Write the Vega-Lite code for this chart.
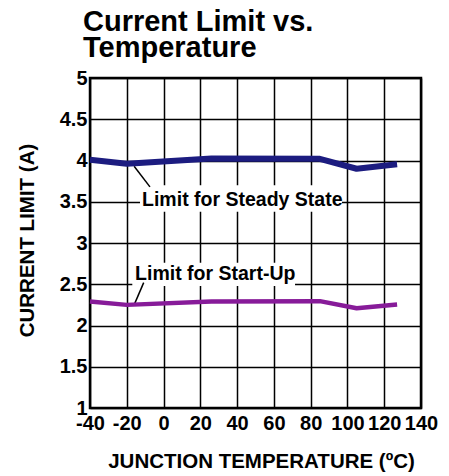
{
  "$schema": "https://vega.github.io/schema/vega-lite/v6.json",
  "width": 331,
  "height": 330,
  "autosize": {"type": "none"},
  "padding": {"left": 90, "top": 78, "right": 28, "bottom": 68},
  "background": "white",
  "config": {
    "font": "Liberation Sans",
    "view": {"stroke": "black", "strokeWidth": 2.5},
    "axis": {
      "grid": true,
      "gridColor": "black",
      "gridWidth": 1.5,
      "gridOpacity": 1,
      "domain": false,
      "ticks": false,
      "labelFontSize": 20,
      "labelFontWeight": "bold",
      "labelColor": "black",
      "labelFlush": false,
      "labelOverlap": false,
      "labelExpr": "'' + datum.value",
      "titleFontSize": 20.5,
      "titleFontWeight": "bold",
      "titleColor": "black"
    }
  },
  "title": {
    "text": ["Current Limit vs.", "Temperature"],
    "anchor": "start",
    "frame": "group",
    "font": "Liberation Sans",
    "fontSize": 29,
    "fontWeight": "bold",
    "color": "black",
    "lineHeight": 26,
    "offset": 5,
    "dx": -7
  },
  "datasets": {
    "curves": [
      {"t": -40, "v": 4.01, "series": "Steady"},
      {"t": -20, "v": 3.96, "series": "Steady"},
      {"t": 26, "v": 4.025, "series": "Steady"},
      {"t": 85, "v": 4.02, "series": "Steady"},
      {"t": 105, "v": 3.9, "series": "Steady"},
      {"t": 127, "v": 3.955, "series": "Steady"},
      {"t": -40, "v": 2.29, "series": "Startup"},
      {"t": -20, "v": 2.25, "series": "Startup"},
      {"t": 26, "v": 2.29, "series": "Startup"},
      {"t": 85, "v": 2.295, "series": "Startup"},
      {"t": 105, "v": 2.21, "series": "Startup"},
      {"t": 127, "v": 2.255, "series": "Startup"}
    ],
    "boxes": [
      {"t": -12.8, "t2": 97, "v": 3.38, "v2": 3.7},
      {"t": -17, "t2": 71.5, "v": 2.48, "v2": 2.76}
    ],
    "leaders": [
      {"t": -16, "v": 3.93, "t2": -7.4, "v2": 3.68},
      {"t": -16, "v": 2.25, "t2": -10.8, "v2": 2.52}
    ],
    "labels": [
      {"t": -11.7, "v": 3.448, "label": "Limit for Steady State"},
      {"t": -15.5, "v": 2.552, "label": "Limit for Start-Up"}
    ]
  },
  "encoding": {
    "x": {
      "field": "t",
      "type": "quantitative",
      "scale": {"domain": [-40, 140], "nice": false, "zero": false},
      "axis": {
        "values": [-40, -20, 0, 20, 40, 60, 80, 100, 120, 140],
        "title": "JUNCTION TEMPERATURE (ºC)",
        "labelPadding": 5,
        "titleX": 171,
        "titleY": 59,
        "titleAlign": "center",
        "titleBaseline": "alphabetic"
      }
    },
    "y": {
      "field": "v",
      "type": "quantitative",
      "scale": {"domain": [1, 5], "nice": false, "zero": false},
      "axis": {
        "values": [1, 1.5, 2, 2.5, 3, 3.5, 4, 4.5, 5],
        "title": "CURRENT LIMIT (A)",
        "labelPadding": 3,
        "titleX": -57,
        "titleY": 162,
        "titleAngle": 270,
        "titleAlign": "center",
        "titleBaseline": "alphabetic"
      }
    }
  },
  "layer": [
    {
      "data": {"name": "boxes"},
      "mark": {"type": "rect", "color": "white"},
      "encoding": {
        "x2": {"field": "t2"},
        "y2": {"field": "v2"}
      }
    },
    {
      "data": {"name": "leaders"},
      "mark": {"type": "rule", "color": "black", "strokeWidth": 1.5},
      "encoding": {
        "x2": {"field": "t2"},
        "y2": {"field": "v2"}
      }
    },
    {
      "data": {"name": "curves"},
      "mark": {"type": "line", "strokeJoin": "round"},
      "encoding": {
        "color": {
          "field": "series",
          "type": "nominal",
          "scale": {"domain": ["Steady", "Startup"], "range": ["#1c1c80", "#871b99"]},
          "legend": null
        },
        "strokeWidth": {
          "field": "series",
          "type": "nominal",
          "scale": {"domain": ["Steady", "Startup"], "range": [6, 4.5]},
          "legend": null
        }
      }
    },
    {
      "data": {"name": "labels"},
      "mark": {"type": "text", "align": "left", "baseline": "alphabetic", "fontSize": 19.5, "fontWeight": "bold", "color": "black"},
      "encoding": {
        "text": {"field": "label"}
      }
    }
  ]
}
